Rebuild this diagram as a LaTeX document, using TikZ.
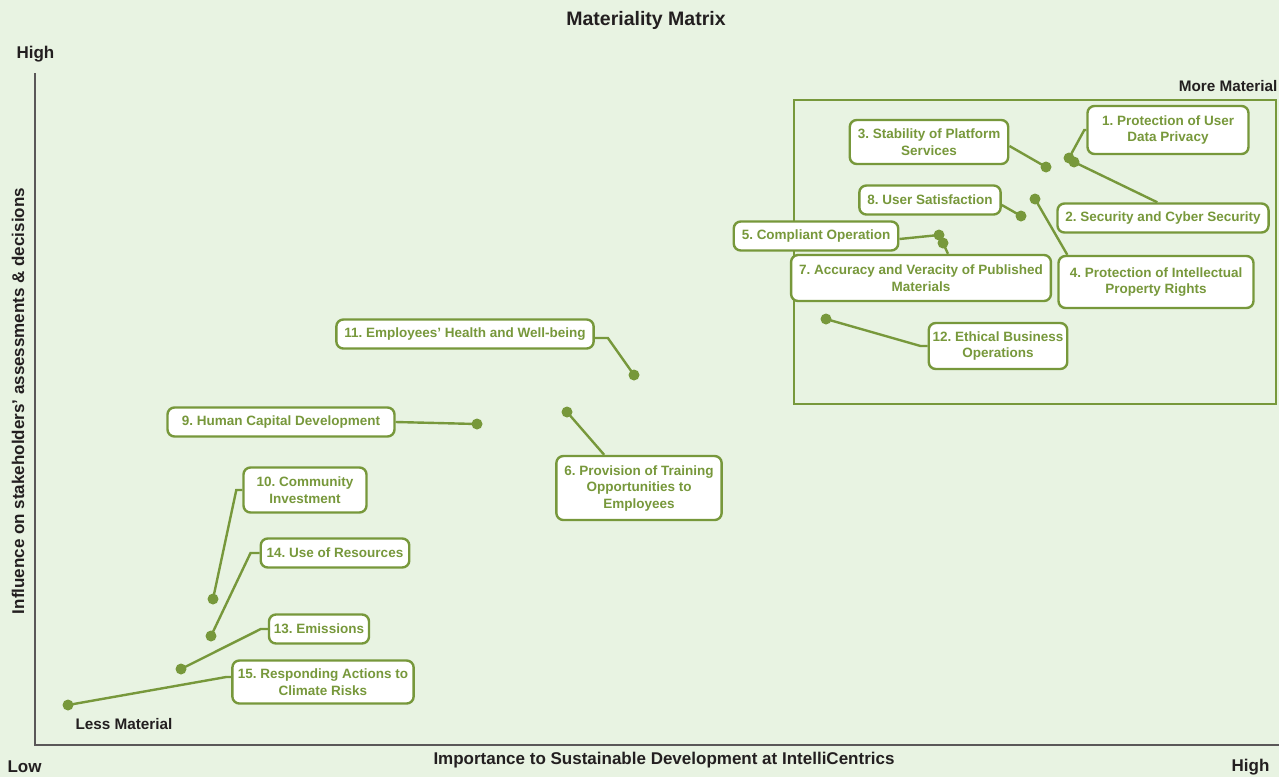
\documentclass[tikz,border=0pt]{standalone}
\usepackage{fontspec}
\setmainfont{Liberation Sans}
\frenchspacing
\definecolor{matgreen}{HTML}{77983B}
\definecolor{matbg}{HTML}{E8F3E2}
\definecolor{matdark}{HTML}{231F20}
\tikzset{
  topic/.style = {draw = matgreen, line width = 2.4pt, rounded corners = 7pt,
    fill = white, text = matgreen, align = center,
    font = \bfseries\fontsize{13.5}{16.5}\selectfont,
    inner xsep = 8pt, inner ysep = 7pt, minimum height = 29pt},
  topicdot/.style = {circle, fill = matgreen, inner sep = 0pt, minimum size = 11pt},
  link/.style = {draw = matgreen, line width = 2.4pt},
  axislabel/.style = {text = matdark, font = \bfseries\fontsize{17}{20}\selectfont},
  cornerlabel/.style = {text = matdark, font = \bfseries\fontsize{15.3}{18}\selectfont}
}
\begin{document}
\begin{tikzpicture}[x = 1pt, y = -1pt]
        % draws the background
        \fill[matbg] (0,0) rectangle (1279,777);
        \useasboundingbox (0,0) rectangle (1279,777);

        % draws the axes and their labels
        \draw[line width = 1.4pt, color = matdark!75]
          (35,73) -- (35,745) -- (1279,745);
        \node[axislabel, font = \bfseries\fontsize{19.5}{22}\selectfont]
          (title) at (646,20) {Materiality Matrix};
        \node[axislabel, anchor = west] (yhigh) at (13,54) {High};
        \node[axislabel, anchor = west] (ylow) at (4,767) {Low};
        \node[axislabel, anchor = east] (xhigh) at (1273,767) {High};
        \node[axislabel] (xlabel) at (664,760)
          {Importance to Sustainable Development at IntelliCentrics};
        \node[axislabel, rotate = 90] (ylabel) at (18,401)
          {Influence on stakeholders’ assessments \& decisions};
        \node[cornerlabel, anchor = east] (more) at (1281,86) {More Material};
        \node[cornerlabel, anchor = west] (less) at (72,724) {Less Material};

        % draws the more material box
        \draw[line width = 2.2pt, color = matgreen] (794,100) rectangle (1276,404);

        % draws the topics
        \foreach \x/\y [count = \i] in {1069/158, 1074/162, 1046/167, 1035/199,
            939/235, 567/412, 943/243, 1021/216, 477/424, 213/599, 634/375,
            826/319, 181/669, 211/636, 68/705}
          \node[topicdot] (d\i) at (\x,\y) {};

        \node[topic, minimum width = 161pt, minimum height = 48pt] (n1) at (1168,130)
          {1. Protection of User\\Data Privacy};
        \node[topic] (n2) at (1163,218) {2. Security and Cyber Security};
        \node[topic, minimum height = 44pt] (n3) at (929,142) {3. Stability of Platform\\Services};
        \node[topic, minimum width = 195pt, minimum height = 52pt] (n4) at (1156,282)
          {4. Protection of Intellectual\\Property Rights};
        \node[topic] (n5) at (816,236) {5. Compliant Operation};
        \node[topic, minimum height = 64pt] (n6) at (639,488)
          {6. Provision of Training\\Opportunities to\\Employees};
        \node[topic, minimum height = 46pt] (n7) at (921,278)
          {7. Accuracy and Veracity of Published\\Materials};
        \node[topic] (n8) at (930,200) {8. User Satisfaction};
        \node[topic, minimum width = 227pt] (n9) at (281,422) {9. Human Capital Development};
        \node[topic, minimum width = 123pt, minimum height = 45pt] (n10) at (305,490)
          {10. Community\\Investment};
        \node[topic] (n11) at (465,334) {11. Employees’ Health and Well-being};
        \node[topic, inner xsep = 4pt, minimum height = 46pt] (n12) at (998,346)
          {12. Ethical Business\\Operations};
        \node[topic, inner xsep = 5pt] (n13) at (319,629) {13. Emissions};
        \node[topic, inner xsep = 6pt] (n14) at (335,553) {14. Use of Resources};
        \node[topic, inner xsep = 5.5pt, minimum height = 43pt] (n15) at (323,682)
          {15. Responding Actions to\\Climate Risks};

        % draws the links
        \draw[link] (n1.west) -- ++(-2,0) -- (d1.center);
        \draw[link] (n2.north west) ++(101,0) -- (d2.center);
        \draw[link] (n3.east) ++(0,4) -- (d3.center);
        \draw[link] (n4.north west) ++(10,0) -- (d4.center);
        \draw[link] (n5.east) ++(0,3) -- (d5.center);
        \draw[link] (n6.north west) ++(49,0) -- (d6.center);
        \draw[link] (n7.north) ++(27,0) -- (d7.center);
        \draw[link] (n8.east) ++(0,5) -- (d8.center);
        \draw[link] (n9.east) -- (d9.center);
        \draw[link] (n10.west) -- ++(-6,0) -- (d10.center);
        \draw[link] (n11.east) ++(0,4) -- ++(13,0) -- (d11.center);
        \draw[link] (n12.west) -- ++(-7,0) -- (d12.center);
        \draw[link] (n13.west) -- ++(-7,0) -- (d13.center);
        \draw[link] (n14.west) -- ++(-9,0) -- (d14.center);
        \draw[link] (n15.west) ++(0,-5) -- ++(-5,0) -- (d15.center);
      \end{tikzpicture}
\end{document}
